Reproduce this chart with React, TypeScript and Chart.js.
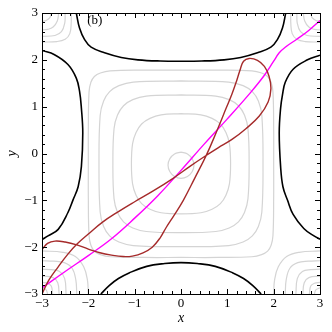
import React, { useEffect, useRef } from 'react';
import { Chart, registerables } from 'chart.js';

Chart.register(...registerables);

type P = [number, number];

const xTickValues = [-3, -2, -1, 0, 1, 2, 3];
const yTickValues = [-3, -2, -1, 0, 1, 2, 3];
const panelLabel = '(b)';
const xTitle = 'x';
const yTitle = 'y';

// trajectories
const magentaPath: P[] = [
  [-3, -2.87], [-2.5, -2.52], [-2, -2.18], [-1.5, -1.82], [-1, -1.38], [-0.5, -0.9],
  [0, -0.36], [0.5, 0.2], [1, 0.74], [1.5, 1.3], [1.8, 1.67], [2.0, 1.97], [2.12, 2.15],
  [2.25, 2.27], [2.5, 2.44], [2.75, 2.62], [3, 2.84],
];

const brownPath: P[] = [
  [-3, -3], [-2.85, -2.7], [-2.65, -2.42], [-2.45, -2.16], [-2.25, -1.94], [-2.0, -1.72],
  [-1.7, -1.47], [-1.35, -1.24], [-1.0, -1.03], [-0.6, -0.8], [-0.17, -0.53], [0.2, -0.27],
  [0.5, -0.07], [0.8, 0.12], [1.1, 0.3], [1.4, 0.53], [1.69, 0.8], [1.88, 1.1], [1.94, 1.38],
  [1.9, 1.65], [1.8, 1.86], [1.65, 1.99], [1.47, 2.03], [1.35, 1.97], [1.28, 1.8], [1.2, 1.55],
  [1.1, 1.27], [0.98, 0.98], [0.76, 0.45], [0.55, -0.03], [0.3, -0.52], [0.05, -1.0],
  [-0.15, -1.32], [-0.32, -1.58], [-0.45, -1.8], [-0.62, -2.0], [-0.82, -2.12], [-1.05, -2.19],
  [-1.25, -2.2], [-1.5, -2.17], [-1.75, -2.12], [-2.0, -2.04], [-2.25, -1.95], [-2.5, -1.89],
  [-2.72, -1.87], [-2.88, -1.92], [-3, -2.05],
];

// black contour branches
const blackTop: P[] = [
  [-2.26, 3], [-2.19, 2.68], [-2.08, 2.43], [-1.94, 2.27], [-1.65, 2.15], [-1.29, 2.05],
  [-0.93, 2.0], [-0.45, 1.975], [0, 1.97], [0.45, 1.975], [0.93, 2.0], [1.29, 2.05],
  [1.65, 2.15], [1.94, 2.27], [2.08, 2.43], [2.19, 2.68], [2.26, 3],
];
const blackBottom: P[] = [
  [-1.73, -3], [-1.55, -2.82], [-1.35, -2.67], [-1.12, -2.55], [-0.74, -2.41], [-0.35, -2.35],
  [0, -2.33], [0.35, -2.35], [0.74, -2.41], [1.12, -2.55], [1.35, -2.67], [1.55, -2.82], [1.73, -3],
];
const blackLeft: P[] = [
  [-3, 2.2], [-2.73, 2.11], [-2.44, 1.9], [-2.26, 1.61], [-2.19, 1.33], [-2.15, 0.97],
  [-2.12, 0.44], [-2.15, -0.28], [-2.22, -0.71], [-2.33, -0.99], [-2.44, -1.26],
  [-2.65, -1.62], [-2.87, -1.76], [-3, -1.84],
];
const blackRight: P[] = [
  [3, 2.1], [2.73, 2.0], [2.42, 1.8], [2.25, 1.52], [2.19, 1.25], [2.15, 0.97],
  [2.12, 0.44], [2.15, -0.28], [2.2, -0.71], [2.3, -1.0], [2.42, -1.3],
  [2.65, -1.6], [2.87, -1.76], [3, -1.83],
];

// gray contours around the centre
const grayLoopE: P[] = [
  [0, 0.03], [0.14, -0.01], [0.24, -0.11], [0.28, -0.25], [0.24, -0.39], [0.14, -0.49],
  [0, -0.53], [-0.14, -0.49], [-0.24, -0.39], [-0.28, -0.25], [-0.24, -0.11], [-0.14, -0.01], [0, 0.03],
];
const grayLoopD: P[] = [
  [0, 0.85], [0.43, 0.825], [0.67, 0.75], [0.85, 0.63], [0.97, 0.45], [1.045, 0.21], [1.07, -0.22],
  [1.045, -0.65], [0.97, -0.89], [0.85, -1.07], [0.67, -1.19], [0.43, -1.265], [0, -1.29],
  [-0.43, -1.265], [-0.67, -1.19], [-0.85, -1.07], [-0.97, -0.89], [-1.045, -0.65], [-1.07, -0.22],
  [-1.045, 0.21], [-0.97, 0.45], [-0.85, 0.63], [-0.67, 0.75], [-0.43, 0.825], [0, 0.85],
];
const grayLoopC: P[] = [
  [0, 1.25], [0.75, 1.225], [1.04, 1.15], [1.24, 1.02], [1.37, 0.82], [1.445, 0.53], [1.47, -0.22],
  [1.445, -0.97], [1.37, -1.26], [1.24, -1.46], [1.04, -1.59], [0.75, -1.665], [0, -1.69],
  [-0.75, -1.665], [-1.04, -1.59], [-1.24, -1.46], [-1.37, -1.26], [-1.445, -0.97], [-1.47, -0.22],
  [-1.445, 0.53], [-1.37, 0.82], [-1.24, 1.02], [-1.04, 1.15], [-0.75, 1.225], [0, 1.25],
];
const grayLoopB: P[] = [
  [0, 1.55], [1.03, 1.525], [1.34, 1.45], [1.54, 1.32], [1.67, 1.12], [1.745, 0.81], [1.77, -0.22],
  [1.745, -1.25], [1.67, -1.56], [1.54, -1.76], [1.34, -1.89], [1.03, -1.965], [0, -1.99],
  [-1.03, -1.965], [-1.34, -1.89], [-1.54, -1.76], [-1.67, -1.56], [-1.745, -1.25], [-1.77, -0.22],
  [-1.745, 0.81], [-1.67, 1.12], [-1.54, 1.32], [-1.34, 1.45], [-1.03, 1.525], [0, 1.55],
];
const grayLoopA: P[] = [
  [0, 1.78], [0.8, 1.78], [1.53, 1.765], [1.74, 1.72], [1.87, 1.645], [1.945, 1.52], [1.985, 1.31],
  [2, 0.5], [2, -0.22], [2, -0.94], [1.985, -1.75], [1.945, -1.96], [1.87, -2.085], [1.74, -2.16],
  [1.53, -2.205], [0.8, -2.22], [0, -2.22], [-0.8, -2.22], [-1.53, -2.205], [-1.74, -2.16],
  [-1.87, -2.085], [-1.945, -1.96], [-1.985, -1.75], [-2, -0.94], [-2, -0.22], [-2, 0.5],
  [-1.985, 1.31], [-1.945, 1.52], [-1.87, 1.645], [-1.74, 1.72], [-1.53, 1.765], [-0.8, 1.78], [0, 1.78],
];

// gray contours in the corners
const grayTL1: P[] = [[-2.8, 3], [-2.83, 2.9], [-2.91, 2.84], [-3, 2.82]];
const grayTL2: P[] = [[-2.64, 3], [-2.67, 2.83], [-2.76, 2.7], [-2.88, 2.65], [-3, 2.64]];
const grayTL3: P[] = [[-2.5, 3], [-2.51, 2.78], [-2.58, 2.6], [-2.72, 2.52], [-3, 2.5]];
const grayTL4: P[] = [[-2.37, 3], [-2.37, 2.78], [-2.4, 2.56], [-2.5, 2.44], [-2.68, 2.39], [-3, 2.38]];
const grayTR1: P[] = [[2.8, 3], [2.83, 2.9], [2.91, 2.84], [3, 2.82]];
const grayTR2: P[] = [[2.64, 3], [2.67, 2.83], [2.76, 2.7], [2.88, 2.65], [3, 2.64]];
const grayTR3: P[] = [[2.5, 3], [2.51, 2.78], [2.58, 2.6], [2.72, 2.52], [3, 2.5]];
const grayTR4: P[] = [[2.37, 3], [2.37, 2.78], [2.4, 2.56], [2.5, 2.44], [2.68, 2.39], [3, 2.38]];
const grayBR1: P[] = [[2.88, -3], [2.91, -2.91], [3, -2.87]];
const grayBR2: P[] = [[2.77, -3], [2.8, -2.83], [2.88, -2.77], [3, -2.75]];
const grayBR3: P[] = [[2.63, -3], [2.66, -2.76], [2.76, -2.65], [3, -2.62]];
const grayBR4: P[] = [[2.48, -3], [2.51, -2.67], [2.62, -2.52], [2.8, -2.48], [3, -2.47]];
const grayBR5: P[] = [[2.25, -3], [2.27, -2.7], [2.35, -2.45], [2.52, -2.33], [2.75, -2.3], [3, -2.29]];
const grayBR6: P[] = [[2.0, -3], [2.02, -2.7], [2.1, -2.42], [2.28, -2.2], [2.55, -2.11], [3, -2.08]];
const grayBL1: P[] = [[-2.88, -3], [-2.91, -2.91], [-3, -2.87]];
const grayBL2: P[] = [[-2.77, -3], [-2.8, -2.83], [-2.88, -2.77], [-3, -2.75]];
const grayBL3: P[] = [[-2.63, -3], [-2.66, -2.76], [-2.76, -2.65], [-3, -2.62]];
const grayBL4: P[] = [[-2.48, -3], [-2.51, -2.67], [-2.62, -2.52], [-2.8, -2.48], [-3, -2.47]];
const grayBL5: P[] = [[-2.25, -3], [-2.27, -2.7], [-2.35, -2.45], [-2.52, -2.33], [-2.75, -2.3], [-3, -2.29]];
const grayBL6: P[] = [[-2.0, -3], [-2.02, -2.7], [-2.1, -2.42], [-2.28, -2.2], [-2.55, -2.11], [-3, -2.08]];

const grayCurves: P[][] = [
  grayLoopE, grayLoopD, grayLoopC, grayLoopB, grayLoopA,
  grayTL1, grayTL2, grayTL3, grayTL4, grayTR1, grayTR2, grayTR3, grayTR4,
  grayBR1, grayBR2, grayBR3, grayBR4, grayBR5, grayBR6,
  grayBL1, grayBL2, grayBL3, grayBL4, grayBL5, grayBL6,
];
const blackCurves: P[][] = [blackTop, blackBottom, blackLeft, blackRight];

const SERIF = '"Liberation Serif", "Times New Roman", "DejaVu Serif", serif';
const fmt = (v: number | string) => {
  const n = Number(v);
  return n < 0 ? '\u2212' + Math.abs(n) : String(n);
};

const toPts = (arr: P[]) => arr.map(([x, y]) => ({ x, y }));

const decoPlugin = {
  id: 'deco',
  afterDatasetsDraw(chart: any) {
    const { ctx, chartArea: a, scales } = chart;
    const xs = scales.x;
    const ys = scales.y;
    ctx.save();
    ctx.strokeStyle = '#000';
    ctx.lineWidth = 1;
    ctx.beginPath();
    for (let i = 0; i <= 30; i++) {
      const v = -3 + i * 0.2;
      const len = i % 5 === 0 ? 5 : 3;
      const px = Math.round(xs.getPixelForValue(v)) + 0.5;
      ctx.moveTo(px, a.bottom);
      ctx.lineTo(px, a.bottom - len);
      ctx.moveTo(px, a.top);
      ctx.lineTo(px, a.top + len);
      const py = Math.round(ys.getPixelForValue(v)) + 0.5;
      ctx.moveTo(a.left, py);
      ctx.lineTo(a.left + len, py);
      ctx.moveTo(a.right, py);
      ctx.lineTo(a.right - len, py);
    }
    ctx.stroke();
    ctx.strokeRect(a.left + 0.5, a.top + 0.5, a.right - a.left, a.bottom - a.top);
    ctx.fillStyle = '#000';
    ctx.font = '13px ' + SERIF;
    ctx.textAlign = 'center';
    ctx.textBaseline = 'middle';
    ctx.fillText(panelLabel, xs.getPixelForValue(-1.86), ys.getPixelForValue(2.84));
    ctx.restore();
  },
};

export default function App() {
  const ref = useRef<HTMLCanvasElement | null>(null);
  useEffect(() => {
    if (!ref.current) return;
    const datasets: any[] = [];
    grayCurves.forEach((c) =>
      datasets.push({
        data: toPts(c), borderColor: '#d4d4d4', borderWidth: 1.2, order: 4,
      })
    );
    blackCurves.forEach((c) =>
      datasets.push({ data: toPts(c), borderColor: '#000000', borderWidth: 1.6, order: 3 })
    );
    datasets.push({ data: toPts(magentaPath), borderColor: '#ff00ff', borderWidth: 1.4, order: 2 });
    datasets.push({ data: toPts(brownPath), borderColor: '#a52a2a', borderWidth: 1.4, order: 1 });
    datasets.forEach((d) => {
      d.showLine = true;
      d.pointRadius = 0;
      d.tension = 0.4;
      d.fill = false;
      d.clip = 0;
      d.borderJoinStyle = 'round';
    });

    const chart = new Chart(ref.current, {
      type: 'scatter',
      data: { datasets },
      options: {
        animation: false,
        responsive: false,
        devicePixelRatio: 1,
        events: [],
        layout: { padding: { top: 13, right: 12, left: 0, bottom: 0 } },
        plugins: { legend: { display: false }, tooltip: { enabled: false } },
        scales: {
          x: {
            type: 'linear',
            min: -3,
            max: 3,
            afterFit: (s: any) => { s.height = 38; },
            afterBuildTicks: (s: any) => { s.ticks = xTickValues.map((v) => ({ value: v })); },
            grid: { display: false, drawTicks: false },
            border: { display: false },
            ticks: {
              padding: 2, color: '#000', maxRotation: 0, autoSkip: false,
              font: { family: SERIF, size: 13 }, callback: fmt,
            },
            title: {
              display: true, text: xTitle, color: '#000',
              font: { family: SERIF, size: 14, style: 'italic', lineHeight: 1 },
              padding: { top: 0, bottom: 7 },
            },
          },
          y: {
            type: 'linear',
            min: -3,
            max: 3,
            afterFit: (s: any) => { s.width = 42; },
            afterBuildTicks: (s: any) => { s.ticks = yTickValues.map((v) => ({ value: v })); },
            grid: { display: false, drawTicks: false },
            border: { display: false },
            ticks: {
              padding: 4, color: '#000', autoSkip: false,
              font: { family: SERIF, size: 13 }, callback: fmt,
            },
            title: {
              display: true, text: yTitle, color: '#000',
              font: { family: SERIF, size: 14, style: 'italic', lineHeight: 1 },
              padding: { top: 5, bottom: 0 },
            },
          },
        },
      },
      plugins: [decoPlugin],
    });
    return () => chart.destroy();
  }, []);

  return (
    <div style={{ position: 'absolute', left: 0, top: 0, width: 332, height: 332, background: '#fff' }}>
      <canvas ref={ref} width={332} height={332} />
    </div>
  );
}
